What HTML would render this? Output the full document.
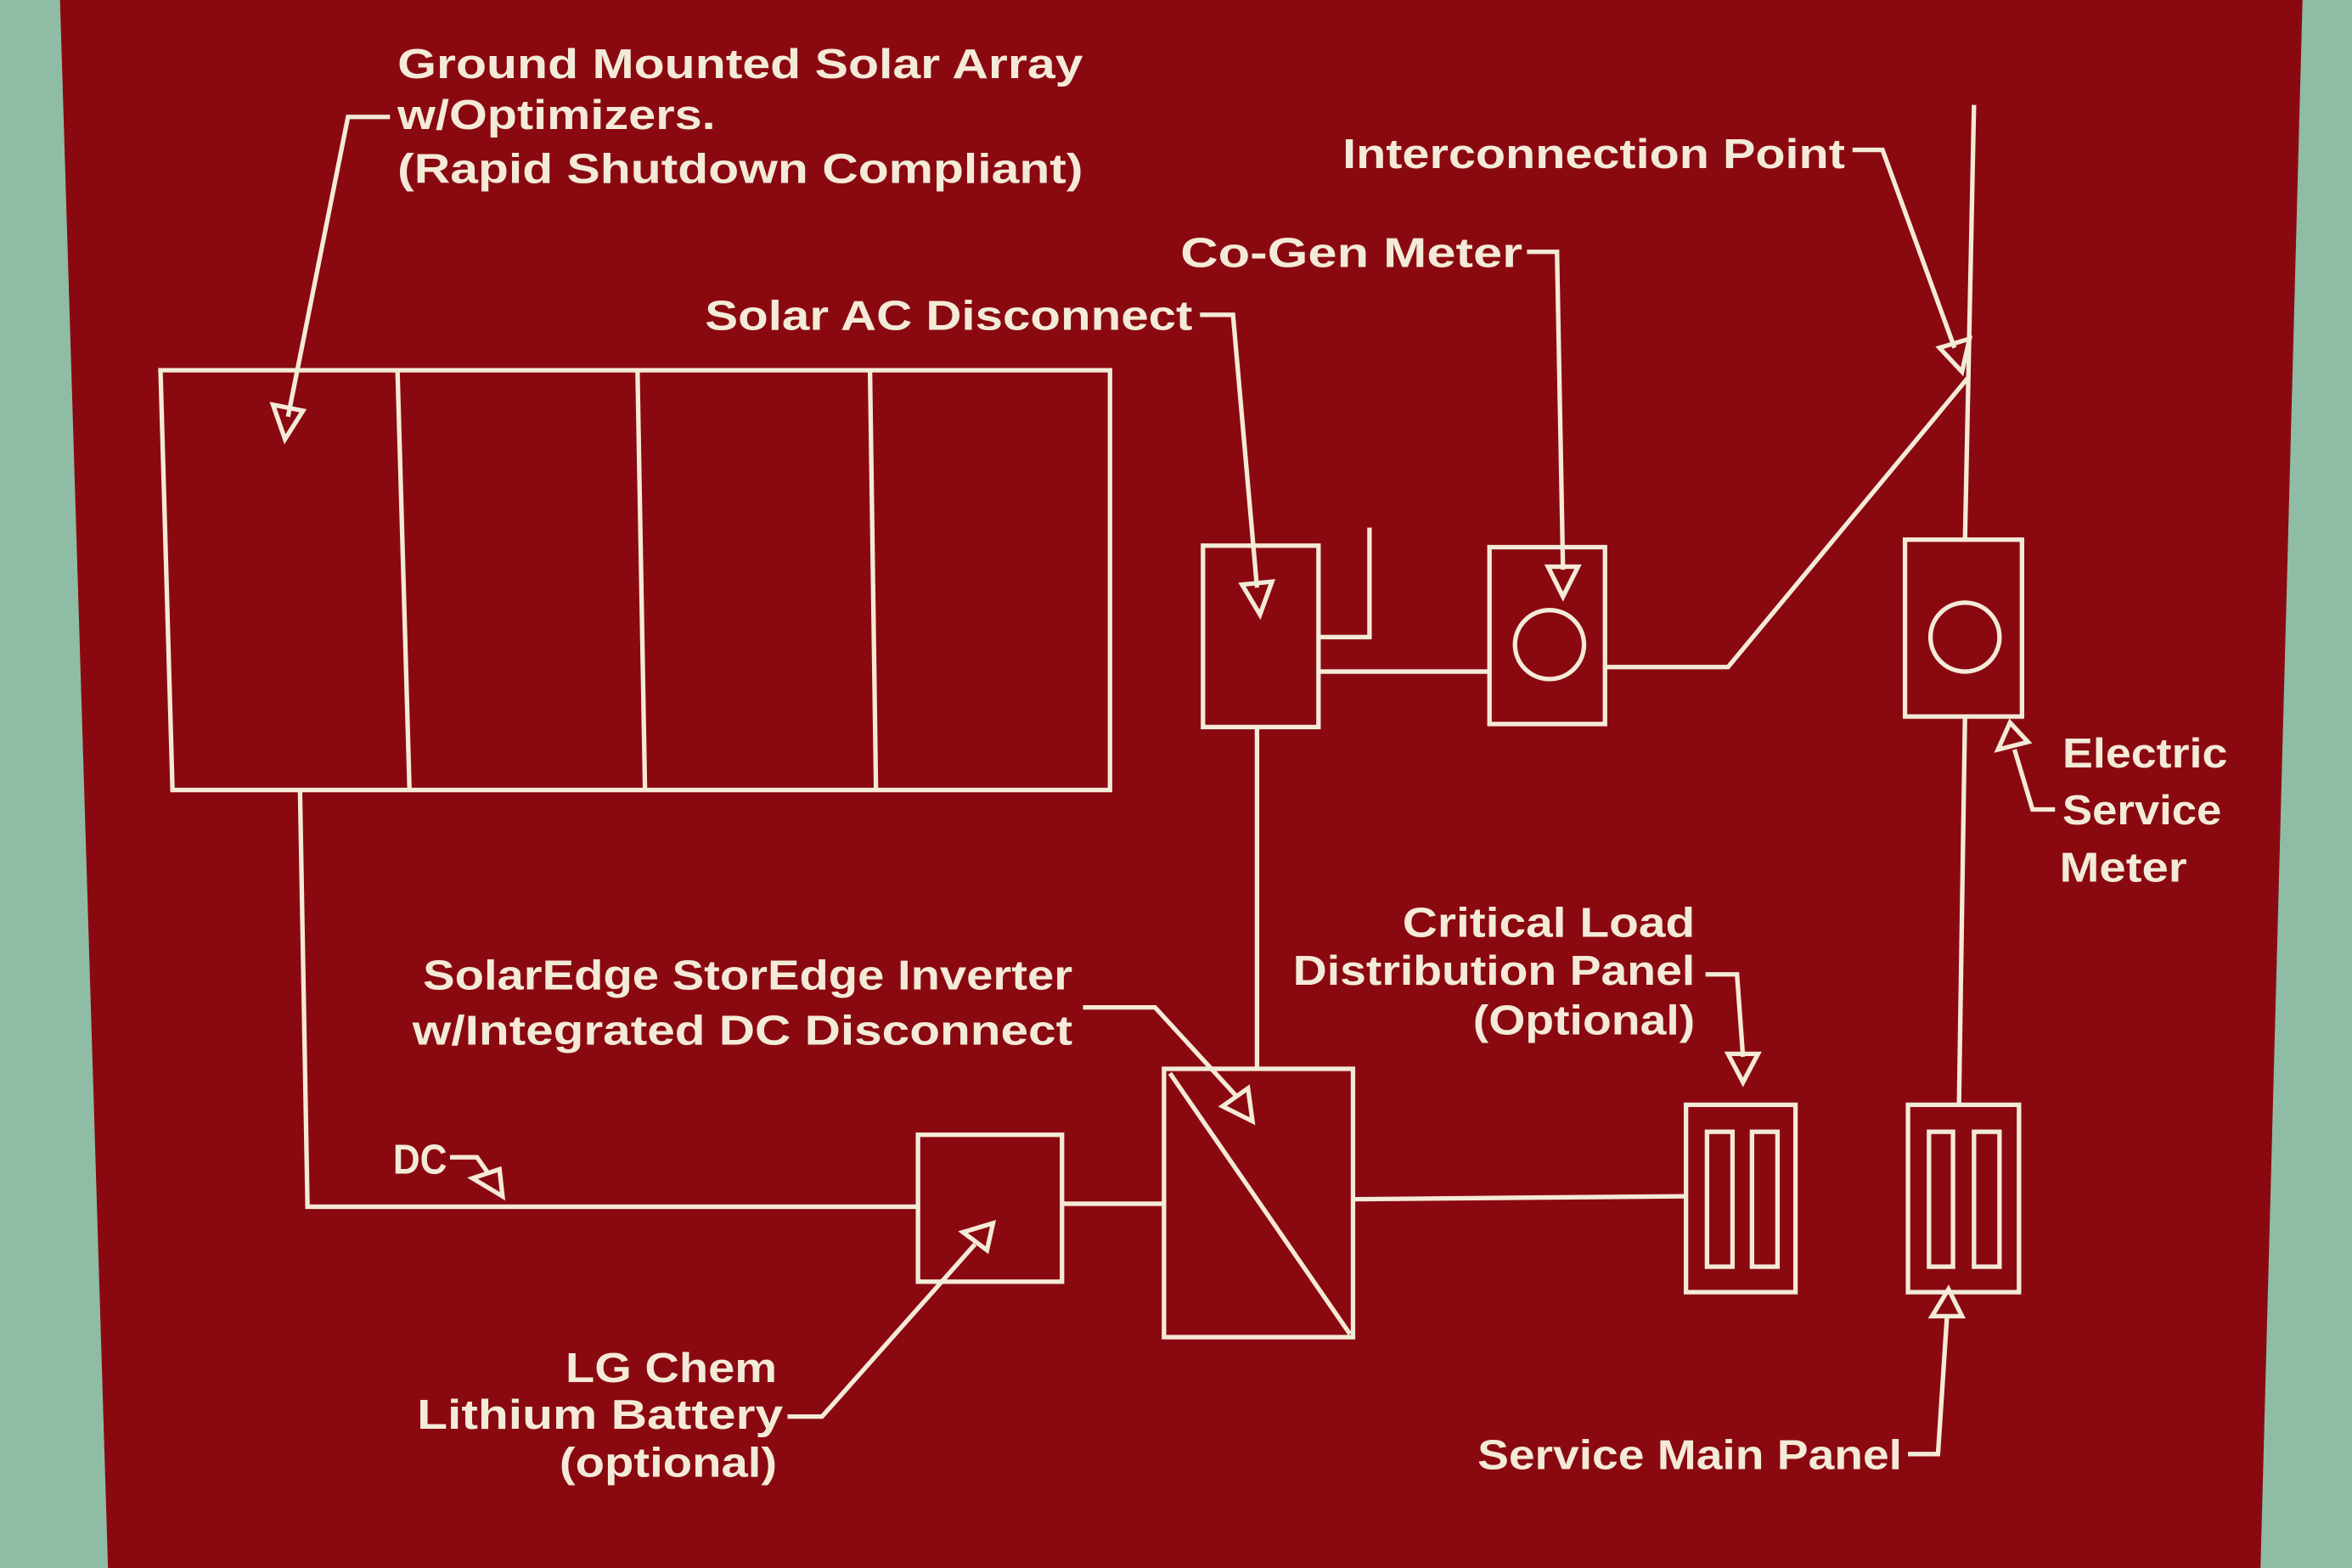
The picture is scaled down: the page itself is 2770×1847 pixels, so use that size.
<!DOCTYPE html>
<html><head><meta charset="utf-8"><style>
html,body{margin:0;padding:0;background:#8fbca5;}
svg{display:block;}
text{font-family:"Liberation Sans",sans-serif;font-size:28px;fill:#f3ead8;font-weight:bold;}
</style></head><body>
<svg width="2770" height="1847" viewBox="0 0 1568 1046" preserveAspectRatio="none">
<rect x="0" y="0" width="1568" height="1046" fill="#8fbca5"/>
<polygon points="40,0 1535,0 1507,1046 72,1046" fill="#8a0911"/>
<g stroke="#f3ead8" stroke-width="3" fill="none" stroke-linejoin="miter">
<!-- solar array -->
<polygon points="107,247 740,247 740,527 115,527"/>
<line x1="265" y1="247" x2="273" y2="527"/>
<line x1="425" y1="247" x2="430" y2="527"/>
<line x1="580" y1="247" x2="584" y2="527"/>
<!-- DC line -->
<polyline points="200,527 205,805 612,805"/>
<rect x="612" y="757" width="96" height="98"/>
<line x1="708" y1="803" x2="776" y2="803"/>
<rect x="776" y="713" width="126" height="179"/>
<line x1="780" y1="716" x2="900" y2="890"/>
<line x1="902" y1="800" x2="1124" y2="798"/>
<rect x="1124" y="737" width="73" height="125"/>
<rect x="1138" y="755" width="17" height="90"/>
<rect x="1168" y="755" width="17" height="90"/>
<!-- AC -->
<line x1="838" y1="485" x2="838" y2="713"/>
<rect x="802" y="364" width="77" height="121"/>
<polyline points="879,425 913,425 913,352"/>
<line x1="879" y1="448" x2="993" y2="448"/>
<rect x="993" y="365" width="77" height="118"/>
<circle cx="1033" cy="430" r="23"/>
<polyline points="1070,445 1152,445 1312,252"/>
<line x1="1316" y1="70" x2="1310" y2="360"/>
<rect x="1270" y="360" width="78" height="118"/>
<circle cx="1310" cy="425" r="23"/>
<line x1="1310" y1="478" x2="1306" y2="737"/>
<rect x="1272" y="737" width="74" height="125"/>
<rect x="1286" y="755" width="16" height="90"/>
<rect x="1316" y="755" width="17" height="90"/>
<!-- leader arrows -->
<polyline points="260,78 232,78 192,278"/>
<polygon points="182,270 202,274 190,293"/>
<polyline points="1235,100 1255,100 1303,232"/>
<polygon points="1293,232 1313,226 1308,248"/>
<polyline points="1018,168 1038,168 1042,380"/>
<polygon points="1032,378 1052,378 1042,398"/>
<polyline points="800,210 822,210 838,392"/>
<polygon points="828,390 848,388 840,410"/>
<polyline points="1370,540 1355,540 1343,500"/>
<polygon points="1332,500 1352,495 1340,482"/>
<polyline points="1137,650 1158,650 1162,705"/>
<polygon points="1152,703 1172,703 1162,722"/>
<polyline points="722,672 770,672 825,732"/>
<polygon points="815,738 832,726 835,748"/>
<polyline points="300,772 318,772 325,782"/>
<polygon points="315,786 333,780 335,798"/>
<polyline points="525,945 548,945 650,830"/>
<polygon points="642,822 658,834 662,816"/>
<polyline points="1272,970 1292,970 1298,878"/>
<polygon points="1288,878 1308,878 1299,860"/>
</g>
<text x="265" y="52" textLength="457" lengthAdjust="spacingAndGlyphs">Ground Mounted Solar Array</text>
<text x="265" y="86" textLength="212" lengthAdjust="spacingAndGlyphs">w/Optimizers.</text>
<text x="265" y="122" textLength="457" lengthAdjust="spacingAndGlyphs">(Rapid Shutdown Compliant)</text>
<text x="895" y="112" textLength="335" lengthAdjust="spacingAndGlyphs">Interconnection Point</text>
<text x="787" y="178" textLength="228" lengthAdjust="spacingAndGlyphs">Co-Gen Meter</text>
<text x="470" y="220" textLength="325" lengthAdjust="spacingAndGlyphs">Solar AC Disconnect</text>
<text x="1375" y="512" textLength="110" lengthAdjust="spacingAndGlyphs">Electric</text>
<text x="1375" y="550" textLength="106" lengthAdjust="spacingAndGlyphs">Service</text>
<text x="1373" y="588" textLength="85" lengthAdjust="spacingAndGlyphs">Meter</text>
<text x="935" y="625" textLength="195" lengthAdjust="spacingAndGlyphs">Critical Load</text>
<text x="862" y="657" textLength="268" lengthAdjust="spacingAndGlyphs">Distribution Panel</text>
<text x="982" y="690" textLength="148" lengthAdjust="spacingAndGlyphs">(Optional)</text>
<text x="282" y="660" textLength="433" lengthAdjust="spacingAndGlyphs">SolarEdge StorEdge Inverter</text>
<text x="275" y="697" textLength="440" lengthAdjust="spacingAndGlyphs">w/Integrated DC Disconnect</text>
<text x="262" y="783" textLength="36" lengthAdjust="spacingAndGlyphs">DC</text>
<text x="377" y="922" textLength="141" lengthAdjust="spacingAndGlyphs">LG Chem</text>
<text x="278" y="953" textLength="244" lengthAdjust="spacingAndGlyphs">Lithium Battery</text>
<text x="373" y="985" textLength="145" lengthAdjust="spacingAndGlyphs">(optional)</text>
<text x="985" y="980" textLength="283" lengthAdjust="spacingAndGlyphs">Service Main Panel</text>
</svg>
</body></html>
